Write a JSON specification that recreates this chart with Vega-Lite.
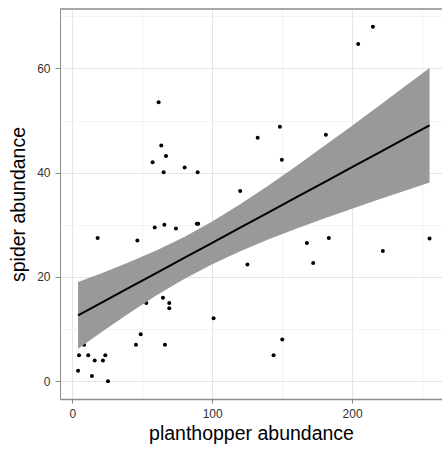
{
  "$schema": "https://vega.github.io/schema/vega-lite/v6.json",
  "width": 382,
  "height": 390,
  "autosize": {"type": "none"},
  "padding": {"left": 60, "top": 9, "right": 0, "bottom": 51},
  "background": "white",
  "config": {
    "view": {"stroke": null},
    "font": "Liberation Sans",
    "axis": {
      "domainColor": "#8c8c8c",
      "tickColor": "#8c8c8c",
      "tickSize": 4,
      "labelFontSize": 12,
      "labelColor": "#333333",
      "titleFontSize": 19.5,
      "titleFontWeight": "normal",
      "titleColor": "black",
      "labelFlush": false,
      "labelOverlap": false
    }
  },
  "datasets": {
    "points": [
      {"planthopper": 61.7, "spider": 53.5},
      {"planthopper": 63.6, "spider": 45.2},
      {"planthopper": 67.0, "spider": 43.2},
      {"planthopper": 57.4, "spider": 42.0},
      {"planthopper": 65.3, "spider": 40.1},
      {"planthopper": 80.3, "spider": 41.0},
      {"planthopper": 89.6, "spider": 40.1},
      {"planthopper": 120.0, "spider": 36.5},
      {"planthopper": 214.9, "spider": 68.0},
      {"planthopper": 204.4, "spider": 64.7},
      {"planthopper": 148.4, "spider": 48.8},
      {"planthopper": 132.5, "spider": 46.7},
      {"planthopper": 181.3, "spider": 47.3},
      {"planthopper": 149.8, "spider": 42.5},
      {"planthopper": 18.1, "spider": 27.5},
      {"planthopper": 46.5, "spider": 27.0},
      {"planthopper": 58.9, "spider": 29.5},
      {"planthopper": 65.8, "spider": 30.0},
      {"planthopper": 74.1, "spider": 29.3},
      {"planthopper": 89.0, "spider": 30.2},
      {"planthopper": 90.0, "spider": 30.2},
      {"planthopper": 125.2, "spider": 22.4},
      {"planthopper": 52.9, "spider": 15.0},
      {"planthopper": 64.8, "spider": 16.0},
      {"planthopper": 69.3, "spider": 15.0},
      {"planthopper": 69.3, "spider": 14.0},
      {"planthopper": 101.0, "spider": 12.1},
      {"planthopper": 48.9, "spider": 9.0},
      {"planthopper": 45.5, "spider": 7.0},
      {"planthopper": 66.2, "spider": 7.0},
      {"planthopper": 8.4, "spider": 7.0},
      {"planthopper": 4.8, "spider": 5.0},
      {"planthopper": 11.4, "spider": 5.0},
      {"planthopper": 23.6, "spider": 5.0},
      {"planthopper": 16.0, "spider": 4.0},
      {"planthopper": 21.9, "spider": 4.0},
      {"planthopper": 4.1, "spider": 2.0},
      {"planthopper": 14.0, "spider": 1.0},
      {"planthopper": 25.5, "spider": 0.0},
      {"planthopper": 167.7, "spider": 26.5},
      {"planthopper": 183.4, "spider": 27.5},
      {"planthopper": 172.2, "spider": 22.7},
      {"planthopper": 222.0, "spider": 25.0},
      {"planthopper": 255.4, "spider": 27.4},
      {"planthopper": 150.1, "spider": 8.0},
      {"planthopper": 143.9, "spider": 5.0}
    ],
    "fit": [
      {"planthopper": 4.1, "fit": 12.65, "lo": 6.25, "hi": 19.05},
      {"planthopper": 20, "fit": 14.96, "lo": 9.28, "hi": 20.64},
      {"planthopper": 40, "fit": 17.86, "lo": 12.96, "hi": 22.76},
      {"planthopper": 60, "fit": 20.76, "lo": 16.44, "hi": 25.08},
      {"planthopper": 80, "fit": 23.66, "lo": 19.63, "hi": 27.69},
      {"planthopper": 100, "fit": 26.56, "lo": 22.46, "hi": 30.66},
      {"planthopper": 120, "fit": 29.46, "lo": 24.96, "hi": 33.96},
      {"planthopper": 140, "fit": 32.36, "lo": 27.20, "hi": 37.52},
      {"planthopper": 160, "fit": 35.26, "lo": 29.26, "hi": 41.26},
      {"planthopper": 180, "fit": 38.16, "lo": 31.21, "hi": 45.11},
      {"planthopper": 200, "fit": 41.07, "lo": 33.10, "hi": 49.03},
      {"planthopper": 220, "fit": 43.97, "lo": 34.94, "hi": 53.00},
      {"planthopper": 240, "fit": 46.87, "lo": 36.74, "hi": 57.00},
      {"planthopper": 255.4, "fit": 49.10, "lo": 38.11, "hi": 60.09}
    ]
  },
  "layer": [
    {
      "data": {"name": "points"},
      "mark": {"type": "point", "filled": true, "size": 16, "color": "black", "opacity": 1},
      "encoding": {
        "x": {
          "field": "planthopper",
          "type": "quantitative",
          "scale": {"domain": [-8.8, 264.3], "nice": false, "zero": false},
          "axis": {
            "title": "planthopper abundance",
            "values": [0, 50, 100, 150, 200, 250],
            "labelExpr": "datum.value % 100 === 0 ? datum.label : ''",
            "gridColor": {"condition": {"test": "datum.value % 100 === 0", "value": "#e5e5e5"}, "value": "#f3f3f3"},
            "tickOpacity": {"condition": {"test": "datum.value % 100 === 0", "value": 1}, "value": 0},
            "domainWidth": 1.5,
            "labelPadding": 5,
            "titlePadding": 5
          }
        },
        "y": {
          "field": "spider",
          "type": "quantitative",
          "scale": {"domain": [-3.4, 71.4], "nice": false, "zero": false},
          "axis": {
            "title": "spider abundance",
            "values": [0, 10, 20, 30, 40, 50, 60, 70],
            "labelExpr": "datum.value % 20 === 0 ? datum.label : ''",
            "gridColor": {"condition": {"test": "datum.value % 20 === 0", "value": "#e5e5e5"}, "value": "#f3f3f3"},
            "tickOpacity": {"condition": {"test": "datum.value % 20 === 0", "value": 1}, "value": 0},
            "tickSize": 5,
            "labelPadding": 5,
            "titlePadding": 8
          }
        }
      }
    },
    {
      "data": {"name": "fit"},
      "mark": {"type": "area", "color": "#999999", "opacity": 1},
      "encoding": {
        "x": {"field": "planthopper", "type": "quantitative"},
        "y": {"field": "lo", "type": "quantitative"},
        "y2": {"field": "hi"}
      }
    },
    {
      "data": {"name": "fit"},
      "mark": {"type": "line", "color": "black", "strokeWidth": 2},
      "encoding": {
        "x": {"field": "planthopper", "type": "quantitative"},
        "y": {"field": "fit", "type": "quantitative"}
      }
    },
    {
      "data": {"values": [{}]},
      "mark": {"type": "rule", "color": "#8c8c8c", "strokeWidth": 1.5},
      "encoding": {"y": {"datum": 71.4}}
    }
  ]
}
